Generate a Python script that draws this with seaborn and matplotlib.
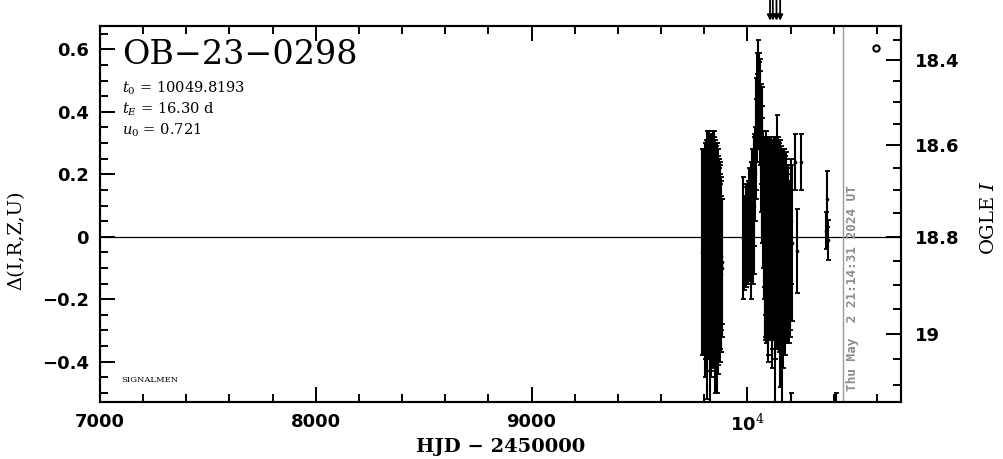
import numpy as np
import pandas as pd
import matplotlib
matplotlib.use("Agg")
import matplotlib.pyplot as plt
from matplotlib.ticker import MultipleLocator, FixedLocator, NullFormatter
import seaborn as sns

# photometry (HJD - 2450000, delta, error)
hjd = [9791, 9792.5, 9794, 9795.5, 9797, 9798.5, 9800, 9801.5, 9803, 9804.5,
       9806, 9807.5, 9809, 9810.5, 9812, 9813.5, 9815, 9816.5, 9818, 9819.5,
       9821, 9822.5, 9824, 9825.5, 9827, 9828.5, 9830, 9831.5, 9833, 9834.5,
       9836, 9837.5, 9839, 9840.5, 9842, 9843.5, 9845, 9846.5, 9848, 9849.5,
       9851, 9852.5, 9854, 9855.5, 9857, 9858.5, 9860, 9861.5, 9863, 9864.5,
       9866, 9868, 9869, 9871, 9872, 9874, 9875, 9877, 9878, 9880,
       9881, 9884,
       9979, 9985, 9992, 9996, 10002, 10005, 10008, 10015, 10018, 10022,
       10026, 10030, 10033,
       10036, 10040, 10042, 10044, 10047, 10048.5, 10050, 10052, 10055, 10056.5,
       10058, 10061, 10064, 10066, 10068, 10070, 10072, 10075,
       10078, 10080, 10082, 10084, 10086, 10088, 10090, 10092, 10094, 10096,
       10098, 10100, 10102, 10104, 10106, 10108, 10110, 10112, 10114, 10116,
       10118, 10120, 10122, 10124, 10126, 10128, 10130, 10132, 10134, 10136,
       10138, 10140, 10142, 10144, 10146, 10148, 10150, 10152, 10154, 10156,
       10158, 10160, 10162, 10164, 10166, 10168, 10170, 10173, 10175, 10178,
       10180, 10183, 10185, 10188, 10190, 10193, 10196, 10199, 10202, 10206,
       10203,
       10220, 10230, 10248,
       10364, 10369, 10374, 10410]
delta = [-0.05, 0.00, 0.02, -0.04, -0.08, 0.01, 0.00, -0.06, -0.10, 0.02,
         0.05, -0.03, -0.03, 0.00, 0.02, -0.07, -0.12, 0.01, 0.04, -0.05,
         -0.06, 0.02, 0.00, -0.04, -0.15, 0.00, 0.03, -0.08, -0.05, 0.02,
         0.01, -0.06, -0.09, 0.00, 0.05, -0.04, -0.02, -0.07, -0.12, 0.01,
         0.00, -0.05, -0.07, 0.02, 0.03, -0.06, -0.10, 0.00, -0.02, -0.08,
         -0.08, -0.03, -0.04, -0.06, -0.10, -0.02, -0.05, -0.09, -0.12, -0.06,
         -0.08, -0.10,
         -0.005, -0.02, 0.05, 0.00, -0.01, 0.03, 0.04, 0.02, 0.06, 0.08,
         0.05, 0.10, 0.15,
         0.20, 0.28, 0.33, 0.38, 0.46, 0.44, 0.50, 0.47, 0.42, 0.45,
         0.38, 0.33, 0.25, 0.30, 0.18, 0.20, 0.12, 0.08,
         0.05, -0.03, -0.02, 0.03, 0.08, -0.04, -0.05, 0.01, 0.02, -0.06,
         -0.08, 0.03, 0.04, -0.02, -0.03, 0.02, 0.06, -0.05, -0.10, 0.01,
         0.00, -0.03, -0.04, 0.03, 0.05, -0.06, -0.15, 0.00, -0.02, -0.04,
         0.04, 0.00, -0.06, 0.02, 0.02, -0.05, -0.12, 0.01, -0.03, -0.04,
         0.04, -0.02, -0.20, -0.08, -0.05, 0.01, 0.00, -0.04, -0.08, -0.02,
         0.02, -0.05, -0.06, -0.03, -0.04, -0.08, -0.10, -0.06, 0.05, -0.02,
         -0.60,
         0.24, -0.045, 0.24,
         0.02, 0.12, -0.01, -0.62]
error = [0.33, 0.28, 0.26, 0.30, 0.30, 0.27, 0.28, 0.33, 0.35, 0.28,
         0.25, 0.32, 0.30, 0.31, 0.32, 0.36, 0.40, 0.30, 0.30, 0.34,
         0.28, 0.31, 0.34, 0.32, 0.42, 0.30, 0.27, 0.37, 0.38, 0.30,
         0.30, 0.33, 0.33, 0.31, 0.29, 0.36, 0.36, 0.33, 0.38, 0.30,
         0.27, 0.33, 0.31, 0.28, 0.26, 0.34, 0.40, 0.30, 0.28, 0.36,
         0.33, 0.28, 0.26, 0.30, 0.30, 0.25, 0.22, 0.28, 0.25, 0.24,
         0.20, 0.22,
         0.195, 0.15, 0.12, 0.16, 0.14, 0.15, 0.18, 0.22, 0.18, 0.20,
         0.20, 0.22, 0.18,
         0.15, 0.16, 0.18, 0.14, 0.13, 0.15, 0.13, 0.12, 0.14, 0.12,
         0.15, 0.16, 0.17, 0.18, 0.20, 0.22, 0.22, 0.24,
         0.25, 0.30, 0.30, 0.28, 0.26, 0.30, 0.28, 0.30, 0.30, 0.32,
         0.32, 0.29, 0.28, 0.31, 0.30, 0.30, 0.26, 0.31, 0.32, 0.30,
         0.30, 0.30, 0.28, 0.29, 0.27, 0.33, 0.38, 0.30, 0.30, 0.32,
         0.35, 0.30, 0.30, 0.30, 0.28, 0.32, 0.36, 0.30, 0.30, 0.30,
         0.25, 0.30, 0.38, 0.34, 0.30, 0.27, 0.28, 0.30, 0.30, 0.27,
         0.25, 0.28, 0.28, 0.26, 0.24, 0.26, 0.22, 0.24, 0.20, 0.25,
         0.10,
         0.09, 0.135, 0.09,
         0.06, 0.09, 0.065, 0.12]

df = pd.DataFrame({"hjd": hjd, "delta": delta, "err": error})

event = "OB\u221223\u22120298"
params = [r"$t_0$ = 10049.8193", r"$t_E$ = 16.30 d", r"$u_0$ = 0.721"]
arrow_hjd = [10105, 10118, 10135, 10152]
marker_pt = (10596, 0.604)
now_hjd = 10441
stamp = "Thu May  2 21:14:31 2024 UT"

x_major = [7000, 8000, 9000, 10000]
x_labels = ["7000", "8000", "9000", r"10$^4$"]
mag_major = [18.4, 18.6, 18.8, 19.0]
mag_labels = ["18.4", "18.6", "18.8", "19"]
mag_minor = [18.35, 18.45, 18.5, 18.55, 18.65, 18.7, 18.75, 18.85, 18.9, 18.95, 19.05, 19.1]


def mag_to_delta(m):
    d = np.asarray(m) - 18.8
    return -1.51 * d - 0.24 * d ** 2


sns.set_style("ticks")
plt.rcParams["font.family"] = ["DejaVu Serif"]
plt.rcParams["mathtext.fontset"] = "dejavuserif"
for key in ["text.color", "axes.edgecolor", "axes.labelcolor", "xtick.color", "ytick.color"]:
    plt.rcParams[key] = "black"

fig = plt.figure(figsize=(10.04, 4.59), dpi=100)
ax = fig.add_axes([0.0996, 0.1242, 0.7978, 0.8192])

ax.axhline(0, color="black", lw=0.9, zorder=1)
ax.errorbar(df["hjd"], df["delta"], yerr=df["err"], fmt="none",
            ecolor="black", elinewidth=1.5, capsize=1.8, capthick=1.3, zorder=2)
sns.scatterplot(data=df, x="hjd", y="delta", ax=ax, color="black", s=7,
                edgecolor="black", linewidth=0, zorder=3, legend=False)
ax.plot([marker_pt[0]], [marker_pt[1]], marker="o", ms=4.5, mfc="white",
        mec="black", mew=1.5, ls="none", zorder=4)

ax.axvline(now_hjd, color="#9a9a9a", lw=1.0, zorder=1)
ax.text(now_hjd + 45, 0.03, stamp, transform=ax.get_xaxis_transform(),
        rotation=90, ha="center", va="bottom", color="#8c8c8c",
        family="DejaVu Sans Mono", fontweight="bold", fontsize=9.2)

for t in arrow_hjd:
    ax.annotate("", xy=(t, 1.014), xytext=(t, 1.075),
                xycoords=ax.get_xaxis_transform(),
                textcoords=ax.get_xaxis_transform(),
                arrowprops=dict(arrowstyle="-|>", color="black", lw=1.3,
                                mutation_scale=8, shrinkA=0, shrinkB=0),
                annotation_clip=False)

ax.set_xlim(7000, 10712)
ax.set_ylim(-0.529, 0.675)
ax.set_xticks(x_major)
ax.set_xticklabels(x_labels)
ax.xaxis.set_minor_locator(MultipleLocator(200))
ax.yaxis.set_minor_locator(MultipleLocator(0.05))
ax.set_yticks([-0.4, -0.2, 0, 0.2, 0.4, 0.6])
ax.set_yticklabels(["\u22120.4", "\u22120.2", "0", "0.2", "0.4", "0.6"])
ax.tick_params(which="both", direction="in", top=True, right=False, width=1.4)
ax.tick_params(which="major", length=11, pad=8)
ax.tick_params(which="minor", length=5.5)
for lab in ax.get_xticklabels() + ax.get_yticklabels():
    lab.set_family("DejaVu Sans")
    lab.set_fontweight("bold")
    lab.set_fontsize(13)
for sp in ax.spines.values():
    sp.set_linewidth(1.5)

ax.set_xlabel("HJD \u2212 2450000", fontsize=14, fontweight="bold", labelpad=3)
ax.set_ylabel("")

ax2 = ax.twinx()
ax2.set_ylim(ax.get_ylim())
ax2.yaxis.set_major_locator(FixedLocator(mag_to_delta(mag_major)))
ax2.yaxis.set_minor_locator(FixedLocator(mag_to_delta(mag_minor)))
ax2.set_yticklabels(mag_labels)
ax2.yaxis.set_minor_formatter(NullFormatter())
ax2.tick_params(which="both", direction="in", width=1.4)
ax2.tick_params(which="major", length=11, pad=10)
ax2.tick_params(which="minor", length=5.5)
for lab in ax2.get_yticklabels():
    lab.set_family("DejaVu Sans")
    lab.set_fontweight("bold")
    lab.set_fontsize(13)
for sp in ax2.spines.values():
    sp.set_linewidth(1.5)

ax.text(0.027, 0.923, event, transform=ax.transAxes, fontsize=24,
        ha="left", va="center")
for i, p in enumerate(params):
    ax.text(0.027, 0.835 - 0.056 * i, p, transform=ax.transAxes,
            fontsize=10.5, ha="left", va="center")
ax.text(0.027, 0.058, "SIGNALMEN", transform=ax.transAxes, fontsize=6,
        ha="left", va="center")

fig.text(0.016, 0.477, "\u0394(I,R,Z,U)", rotation=90, ha="center",
         va="center", fontsize=14)
fig.text(0.985, 0.527, "OGLE $I$", rotation=90, ha="center",
         va="center", fontsize=14)

fig.savefig("out.png", dpi=100)
